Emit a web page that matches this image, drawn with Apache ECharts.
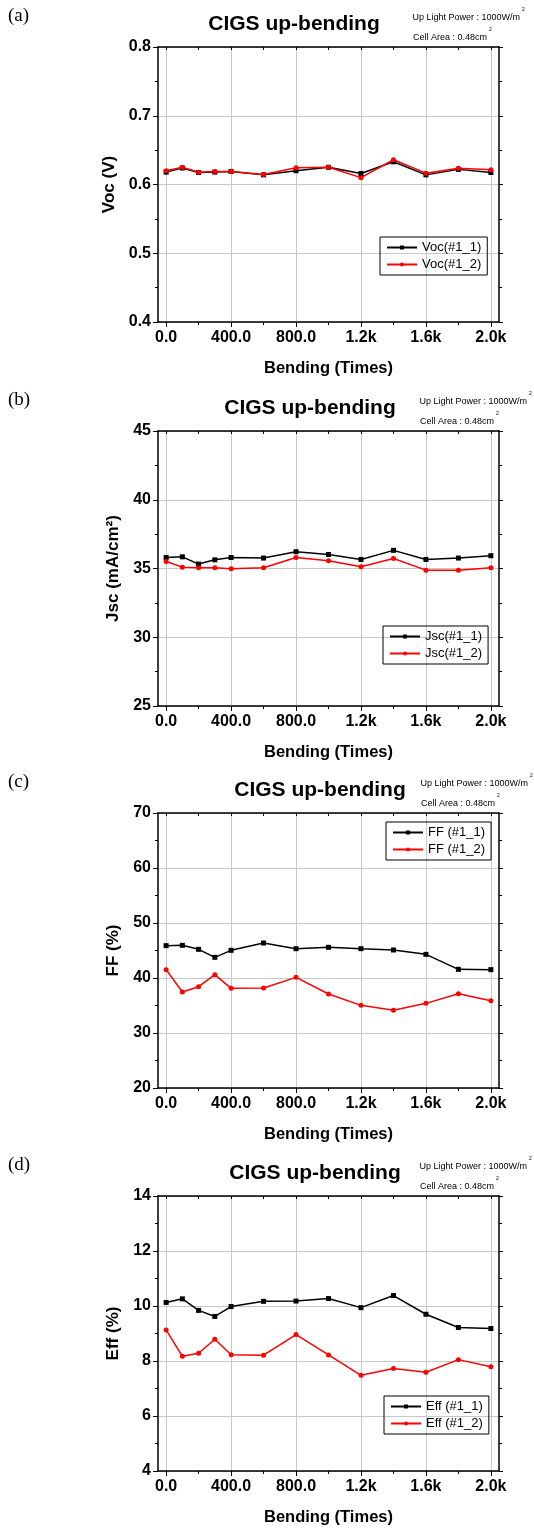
<!DOCTYPE html>
<html>
<head>
<meta charset="utf-8">
<script src="https://cdn.jsdelivr.net/npm/echarts@6/dist/echarts.min.js"></script>
<style>
body{margin:0;background:#fff;}
#chart{width:534px;height:1530px;}
</style>
</head>
<body>
<div id="chart"></div>
<script>
// bending count for every measurement
var bending=[0,100,200,300,400,600,800,1000,1200,1400,1600,1800,2000];
var xMajor=[0,400,800,1200,1600,2000];
var xMinor=[200,600,1000,1400,1800];
var xTickLabels=['0.0','400.0','800.0','1.2k','1.6k','2.0k'];

var vocNames=['Voc(#1_1)','Voc(#1_2)'];
var voc1=[0.618,0.624,0.6175,0.618,0.619,0.614,0.620,0.625,0.616,0.633,0.614,0.622,0.6175];
var voc2=[0.620,0.625,0.618,0.619,0.619,0.6146,0.6243,0.625,0.610,0.636,0.6165,0.6238,0.6214];

var jscNames=['Jsc(#1_1)','Jsc(#1_2)'];
var jsc1=[35.80,35.85,35.32,35.63,35.80,35.76,36.22,36.02,35.66,36.32,35.66,35.76,35.93];
var jsc2=[35.51,35.10,35.05,35.05,34.98,35.05,35.80,35.56,35.12,35.73,34.88,34.88,35.05];

var ffNames=['FF (#1_1)','FF (#1_2)'];
var ff1=[45.88,45.94,45.21,43.76,45.03,46.36,45.33,45.58,45.33,45.09,44.30,41.58,41.52];
var ff2=[41.52,37.45,38.42,40.61,38.12,38.18,40.12,37.09,35.03,34.12,35.39,37.15,35.88];

var effNames=['Eff (#1_1)','Eff (#1_2)'];
var eff1=[10.13,10.26,9.84,9.62,9.98,10.17,10.18,10.27,9.94,10.38,9.70,9.22,9.18];
var eff2=[9.13,8.17,8.28,8.79,8.23,8.21,8.96,8.22,7.48,7.73,7.59,8.05,7.79];

var yMin=[0.4,25,20,4];
var yMax=[0.8,45,70,14];
var yStep=[0.1,5,10,2];
var yNames=['Voc (V)','Jsc (mA/cm\u00b2)','FF (%)','Eff (%)'];
var panelLetters=['(a)','(b)','(c)','(d)'];
var titleText='CIGS up-bending';
var powerText='Up Light Power : 1000W/m';
var areaText='Cell Area : 0.48cm';

// layout (pixels)
var gridTop=[47,431,813,1196];
var gridLeft=158,gridWidth=341,gridHeight=275;
var titleX=[294,310,320,315];
var noteRight=[520,527,528,527];
var legendPos=[[380,237],[383,626],[386,822],[384,1396]];

var font='"Liberation Sans", Arial, sans-serif';
var gridColor='#c8c8c8';

function pairs(ys){
	var out=[];
	for(var i=0;i<bending.length;i++){
		out.push([bending[i],ys[i]]);
	}
	return out;
}

function loadChart(){
	var myChart=echarts.init(document.getElementById('chart'));
	var names=[vocNames,jscNames,ffNames,effNames];
	var values=[[voc1,voc2],[jsc1,jsc2],[ff1,ff2],[eff1,eff2]];
	var grid=[],xAxis=[],yAxis=[],series=[],legend=[],graphic=[];
	for(var p=0;p<4;p++){
		var top=gridTop[p];
		grid.push({left:gridLeft,top:top,width:gridWidth,height:gridHeight});
		// main bottom axis
		xAxis.push({
			type:'value',gridIndex:p,position:'bottom',min:-50,max:2050,
			name:'Bending (Times)',nameLocation:'middle',nameGap:38,
			nameTextStyle:{fontFamily:font,fontWeight:'bold',fontSize:16.5,color:'#000'},
			axisLine:{show:true,onZero:false,lineStyle:{color:'#000',width:1.5}},
			axisTick:{show:true,customValues:xMajor,length:5,lineStyle:{color:'#000',width:1}},
			axisLabel:{customValues:xMajor,margin:8,fontFamily:font,fontWeight:'bold',fontSize:16,color:'#000',
				formatter:function(v){return xTickLabels[xMajor.indexOf(v)];}},
			splitLine:{show:true,lineStyle:{color:gridColor,width:1}}
		});
		// minor ticks on the bottom
		xAxis.push({
			type:'value',gridIndex:p,position:'bottom',min:-50,max:2050,
			axisLine:{show:false,onZero:false},
			axisTick:{show:true,customValues:xMinor,length:3,lineStyle:{color:'#000',width:1}},
			axisLabel:{show:false},splitLine:{show:false}
		});
		// top frame
		xAxis.push({
			type:'value',gridIndex:p,position:'top',min:-50,max:2050,
			axisLine:{show:true,onZero:false,lineStyle:{color:'#000',width:1.5}},
			axisTick:{show:true,inside:true,customValues:xMajor.concat(xMinor),length:3,lineStyle:{color:'#000',width:1}},
			axisLabel:{show:false},splitLine:{show:false}
		});
		var dec=p==0?1:0;
		yAxis.push({
			type:'value',gridIndex:p,position:'left',min:yMin[p],max:yMax[p],interval:yStep[p],
			name:yNames[p],nameLocation:'middle',nameGap:34,
			nameTextStyle:{fontFamily:font,fontWeight:'bold',fontSize:17,color:'#000'},
			axisLine:{show:true,onZero:false,lineStyle:{color:'#000',width:1.5}},
			axisTick:{show:true,length:5,lineStyle:{color:'#000',width:1}},
			minorTick:{show:true,splitNumber:2,length:3,lineStyle:{color:'#000',width:1}},
			axisLabel:{margin:7,fontFamily:font,fontWeight:'bold',fontSize:16,color:'#000',
				formatter:(function(d){return function(v){return v.toFixed(d);};})(dec)},
			splitLine:{show:true,lineStyle:{color:gridColor,width:1}}
		});
		yAxis.push({
			type:'value',gridIndex:p,position:'right',min:yMin[p],max:yMax[p],interval:yStep[p],
			axisLine:{show:true,onZero:false,lineStyle:{color:'#000',width:1.5}},
			axisTick:{show:true,length:4,lineStyle:{color:'#000',width:1}},
			minorTick:{show:true,splitNumber:2,length:3,lineStyle:{color:'#000',width:1}},
			axisLabel:{show:false},splitLine:{show:false}
		});
		series.push({
			name:names[p][0],type:'line',xAxisIndex:p*3,yAxisIndex:p*2,
			data:pairs(values[p][0]),symbol:'rect',symbolSize:5,
			lineStyle:{color:'#000',width:1.5},itemStyle:{color:'#000'}
		});
		series.push({
			name:names[p][1],type:'line',xAxisIndex:p*3,yAxisIndex:p*2,
			data:pairs(values[p][1]),symbol:'circle',symbolSize:5,
			lineStyle:{color:'#ff0000',width:1.5},itemStyle:{color:'#ff0000'}
		});
		legend.push({
			data:names[p],orient:'vertical',left:legendPos[p][0],top:legendPos[p][1],
			borderColor:'#000',borderWidth:1,padding:[4,6,4,6],itemGap:4,
			itemWidth:30,itemHeight:5,
			textStyle:{fontFamily:font,fontSize:13,color:'#000'}
		});
		graphic.push({type:'text',x:8,y:top-31,style:{text:panelLetters[p],font:'19px "Liberation Serif", "Times New Roman", serif',fill:'#000',textVerticalAlign:'middle'}});
		graphic.push({type:'text',x:titleX[p],y:top-23,style:{text:titleText,font:'bold 21px '+font,fill:'#000',textAlign:'center',textVerticalAlign:'middle'}});
		graphic.push({type:'text',x:noteRight[p],y:top-29,style:{text:powerText,font:'9px '+font,fill:'#000',textAlign:'right',textVerticalAlign:'middle'}});
		graphic.push({type:'text',x:noteRight[p]+2,y:top-37,style:{text:'2',font:'5px '+font,fill:'#000',textVerticalAlign:'middle'}});
		graphic.push({type:'text',x:noteRight[p]-33,y:top-9,style:{text:areaText,font:'9px '+font,fill:'#000',textAlign:'right',textVerticalAlign:'middle'}});
		graphic.push({type:'text',x:noteRight[p]-31,y:top-17,style:{text:'2',font:'5px '+font,fill:'#000',textVerticalAlign:'middle'}});
	}
	var option={
		animation:false,
		backgroundColor:'#fff',
		grid:grid,
		xAxis:xAxis,
		yAxis:yAxis,
		legend:legend,
		series:series,
		graphic:graphic
	};
	myChart.setOption(option);
}
loadChart();
</script>
</body>
</html>
